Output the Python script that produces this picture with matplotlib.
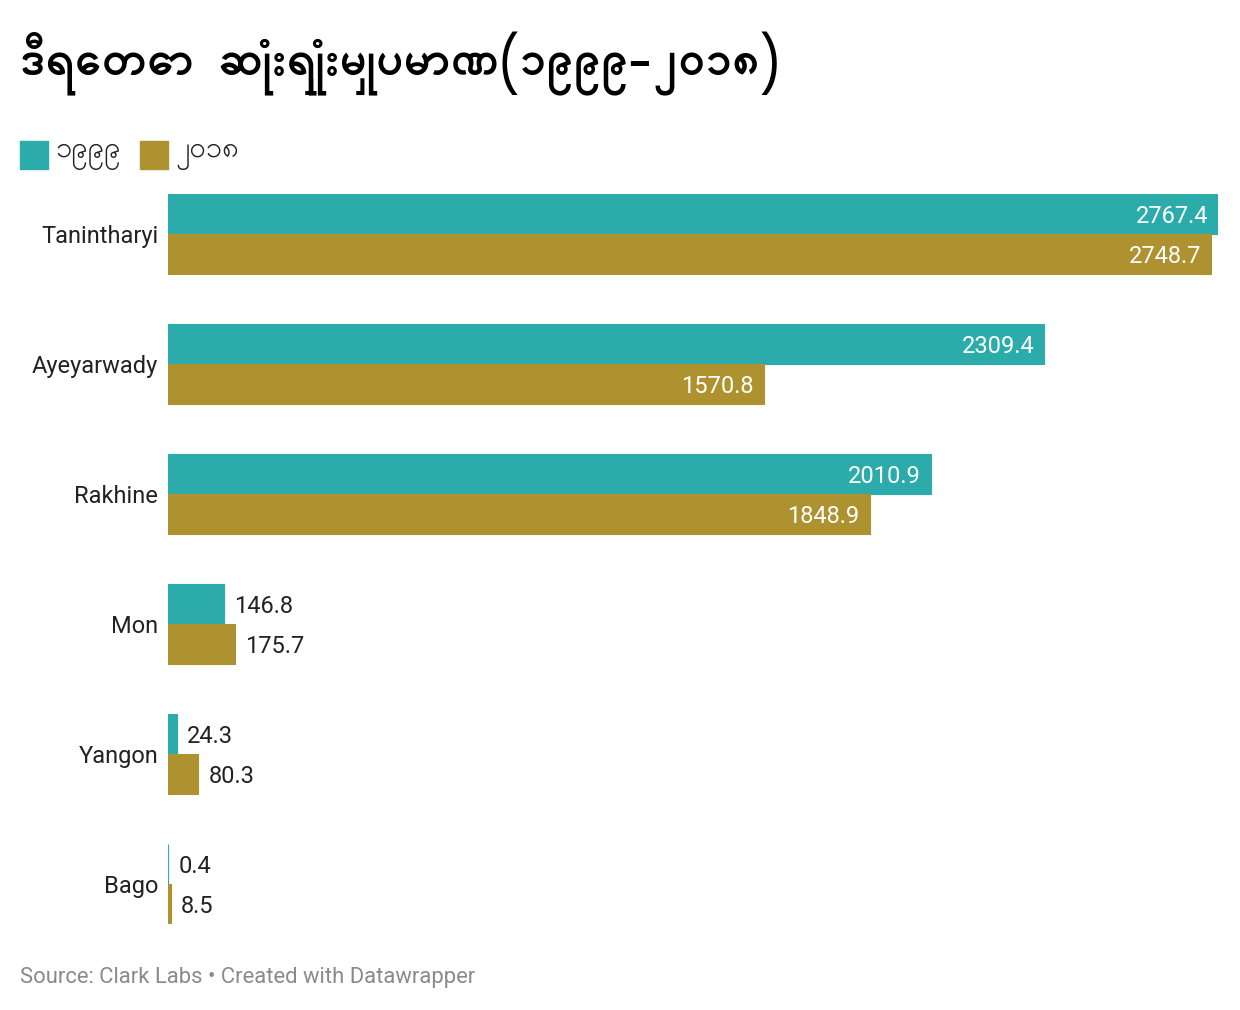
import matplotlib
matplotlib.use("Agg")
import matplotlib.pyplot as plt
from matplotlib.patches import Rectangle

# data
regions = ["Tanintharyi", "Ayeyarwady", "Rakhine", "Mon", "Yangon", "Bago"]
loss_1999 = [2767.4, 2309.4, 2010.9, 146.8, 24.3, 0.4]
loss_2018 = [2748.7, 1570.8, 1848.9, 175.7, 80.3, 8.5]
series_names = ["၁၉၉၉", "၂၀၁၈"]
title = "ဒီရေတော ဆုံးရှုံးမှုပမာဏ(၁၉၉၉-၂၀၁၈)"
source = "Source: Clark Labs • Created with Datawrapper"

TEAL = "#2cabab"
GOLD = "#ad922f"
DARK = "#222222"

mm_family = ["Padauk", "Noto Sans Myanmar", "Roboto", "DejaVu Sans"]
plt.rcParams["font.family"] = ["Roboto", "DejaVu Sans"]

W, H = 1240, 1010
fig = plt.figure(figsize=(W / 100, H / 100), dpi=100)

# axes placed in pixel terms
left, right = 168, 1218
top, bottom = 194, 924
ax = fig.add_axes([left / W, 1 - bottom / H, (right - left) / W, (bottom - top) / H])

gap = 130.0
bh = 40 / gap
n = len(regions)
ys = list(range(n))
ax.barh([y - bh / 2 for y in ys], loss_1999, height=bh, color=TEAL,
        edgecolor=TEAL, linewidth=0.8)
ax.barh([y + bh / 2 for y in ys], loss_2018, height=bh, color=GOLD,
        edgecolor=GOLD, linewidth=0.8)

xmax = max(loss_1999 + loss_2018)
ax.set_xlim(0, xmax)
ax.set_ylim(n - 1 + 40 / gap, -40 / gap)

px = xmax / (right - left)
for vals, off in ((loss_1999, -bh / 2), (loss_2018, bh / 2)):
    for y, v in zip(ys, vals):
        if v > 500:
            ax.text(v - 10 * px, y + off, f"{v:.1f}", ha="right",
                    va="center_baseline", color="white", fontsize=17)
        else:
            ax.text(v + 10 * px, y + off, f"{v:.1f}", ha="left",
                    va="center_baseline", color=DARK, fontsize=17)

ax.set_yticks(ys)
ax.set_yticklabels(regions, fontsize=17, color=DARK)
ax.tick_params(axis="y", length=0, pad=7)
ax.set_xticks([])
for s in ax.spines.values():
    s.set_visible(False)

# title
fig.text(20 / W, 1 - 64 / H, title, fontsize=34, fontweight="bold",
         family=mm_family, ha="left", va="center", color="#000000")

# legend
lx = 20
for name, col in zip(series_names, (TEAL, GOLD)):
    fig.patches.append(Rectangle((lx / W, 1 - 169 / H), 28 / W, 28 / H,
                                 transform=fig.transFigure, color=col))
    fig.text((lx + 35) / W, 1 - 157 / H, name, fontsize=21,
             family=mm_family, ha="left", va="center", color=DARK)
    lx += 120

fig.text(20 / W, 1 - 977 / H, source, fontsize=15.8, color="#8a8a8a",
         ha="left", va="center")

fig.savefig("out.png", dpi=100, facecolor="white")
